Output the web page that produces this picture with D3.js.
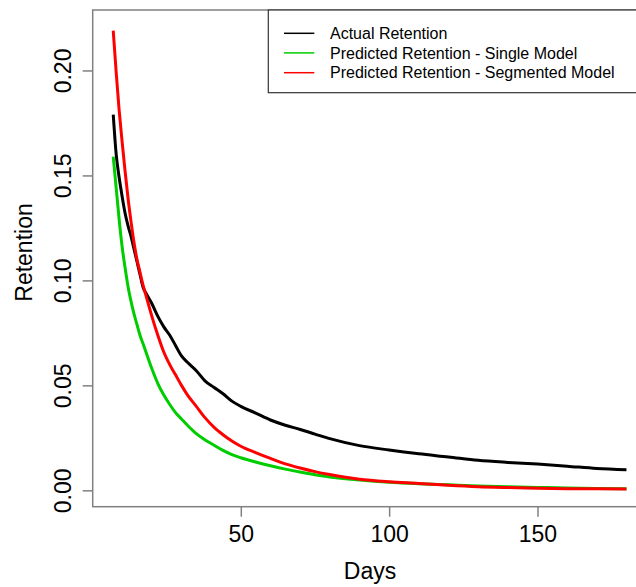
<!DOCTYPE html>
<html>
<head>
<meta charset="utf-8">
<script src="https://cdn.jsdelivr.net/npm/d3@7"></script>
<style>
  body { margin: 0; background: #fff; }
  svg { display: block; font-family: "Liberation Sans", Arial, sans-serif; }
</style>
</head>
<body>
<svg id="chart" width="636" height="587"></svg>
<script>
// data
var days = [7, 8, 9, 10, 11, 12, 13, 14, 15, 16, 17, 18, 20, 22, 24, 26, 28, 30, 32, 35,
  38, 41, 44, 47, 50, 55, 60, 65, 70, 75, 80, 90, 100, 110, 120, 130, 140, 150, 160, 170, 180];

var actual = [0.179, 0.160, 0.149, 0.140, 0.132, 0.126, 0.121, 0.115, 0.109, 0.103, 0.097, 0.094,
  0.089, 0.083, 0.078, 0.074, 0.069, 0.064, 0.061, 0.057, 0.052, 0.049, 0.046, 0.0425, 0.040,
  0.0368, 0.0335, 0.031, 0.029, 0.0268, 0.0246, 0.0213, 0.0192, 0.0174, 0.0159, 0.0143, 0.0133,
  0.0125, 0.0115, 0.0104, 0.0098];

var singleModel = [0.159, 0.144, 0.129, 0.116, 0.106, 0.097, 0.090, 0.084, 0.079, 0.074, 0.070,
  0.066, 0.058, 0.051, 0.0455, 0.041, 0.037, 0.034, 0.031, 0.027, 0.024, 0.0215, 0.019, 0.017,
  0.0155, 0.0135, 0.0117, 0.0101, 0.0087, 0.0074, 0.0064, 0.0049, 0.0038, 0.0031, 0.0026, 0.0021,
  0.0017, 0.0014, 0.0011, 0.0009, 0.0008];

var segmentedModel = [0.219, 0.199, 0.181, 0.166, 0.152, 0.139, 0.128, 0.118, 0.110, 0.104, 0.098,
  0.093, 0.083, 0.074, 0.066, 0.060, 0.055, 0.050, 0.0455, 0.040, 0.0345, 0.030, 0.0265, 0.0235,
  0.021, 0.018, 0.0152, 0.0126, 0.0106, 0.0089, 0.0075, 0.0053, 0.0041, 0.0033, 0.0024, 0.0017,
  0.0013, 0.0010, 0.0008, 0.0007, 0.0006];

var seriesNames = ['Actual Retention', 'Predicted Retention - Single Model', 'Predicted Retention - Segmented Model'];
var seriesColors = ['#000000', '#00cd00', '#ff0000'];

var xTicks = [50, 100, 150];
var yTicks = [0.00, 0.05, 0.10, 0.15, 0.20];

var svg = d3.select('#chart');

// plot region (right edge runs past the window, as in the reference)
var plot = { left: 92.7, top: 10, right: 647, bottom: 506.7 };

var xScale = d3.scaleLinear().domain([0.08, 186.92]).range([plot.left, plot.right]);
var yScale = d3.scaleLinear().domain([-0.0078, 0.2288]).range([plot.bottom, plot.top]);

svg.append('rect').attr('width', 636).attr('height', 587).attr('fill', '#fff');

// lines
var series = [actual, singleModel, segmentedModel];
var line = d3.line()
  .x(function(d) { return xScale(d[0]); })
  .y(function(d) { return yScale(d[1]); })
  .curve(d3.curveMonotoneX);

series.forEach(function(vals, i) {
  svg.append('path')
    .datum(days.map(function(d, j) { return [d, vals[j]]; }))
    .attr('fill', 'none')
    .attr('stroke', seriesColors[i])
    .attr('stroke-width', 3)
    .attr('stroke-linejoin', 'round')
    .attr('d', line);
});

// box
svg.append('rect')
  .attr('x', plot.left)
  .attr('y', plot.top)
  .attr('width', plot.right - plot.left)
  .attr('height', plot.bottom - plot.top)
  .attr('fill', 'none')
  .attr('stroke', '#808080')
  .attr('stroke-width', 1.5);

// y axis
var yAxis = svg.append('g')
  .attr('transform', 'translate(' + plot.left + ',0)')
  .call(d3.axisLeft(yScale).tickValues(yTicks).tickSize(10).tickFormat(d3.format('.2f')));
yAxis.select('.domain').remove();
yAxis.selectAll('.tick line').attr('stroke', '#808080').attr('stroke-width', 1.5);
yAxis.selectAll('.tick text')
  .attr('x', null).attr('dy', null)
  .attr('transform', 'translate(-22,0) rotate(-90)')
  .attr('text-anchor', 'middle')
  .attr('fill', '#000')
  .style('font-size', '23px')
  .style('font-family', '"Liberation Sans", Arial, sans-serif');

// x axis
var xAxis = svg.append('g')
  .attr('transform', 'translate(0,' + plot.bottom + ')')
  .call(d3.axisBottom(xScale).tickValues(xTicks).tickSize(10));
xAxis.select('.domain').remove();
xAxis.selectAll('.tick line').attr('stroke', '#808080').attr('stroke-width', 1.5);
xAxis.selectAll('.tick text')
  .attr('y', 35).attr('dy', null)
  .attr('fill', '#000')
  .style('font-size', '23px')
  .style('font-family', '"Liberation Sans", Arial, sans-serif');

// axis titles
svg.append('text')
  .attr('x', 370)
  .attr('y', 579)
  .attr('text-anchor', 'middle')
  .style('font-size', '23px')
  .text('Days');

svg.append('text')
  .attr('transform', 'translate(32,252.5) rotate(-90)')
  .attr('text-anchor', 'middle')
  .style('font-size', '23px')
  .text('Retention');

// legend
var legend = svg.append('g');
legend.append('rect')
  .attr('x', 268.3)
  .attr('y', plot.top)
  .attr('width', 400)
  .attr('height', 82.7)
  .attr('fill', '#fff')
  .attr('stroke', '#333')
  .attr('stroke-width', 1.2);

var rowY = [33.3, 52.9, 72.7];
seriesNames.forEach(function(name, i) {
  legend.append('line')
    .attr('x1', 284).attr('x2', 314.3)
    .attr('y1', rowY[i]).attr('y2', rowY[i])
    .attr('stroke', seriesColors[i])
    .attr('stroke-width', 1.5);
  legend.append('text')
    .attr('x', 330)
    .attr('y', rowY[i])
    .attr('dy', '0.35em')
    .style('font-size', '16px')
    .text(name);
});
</script>
</body>
</html>
